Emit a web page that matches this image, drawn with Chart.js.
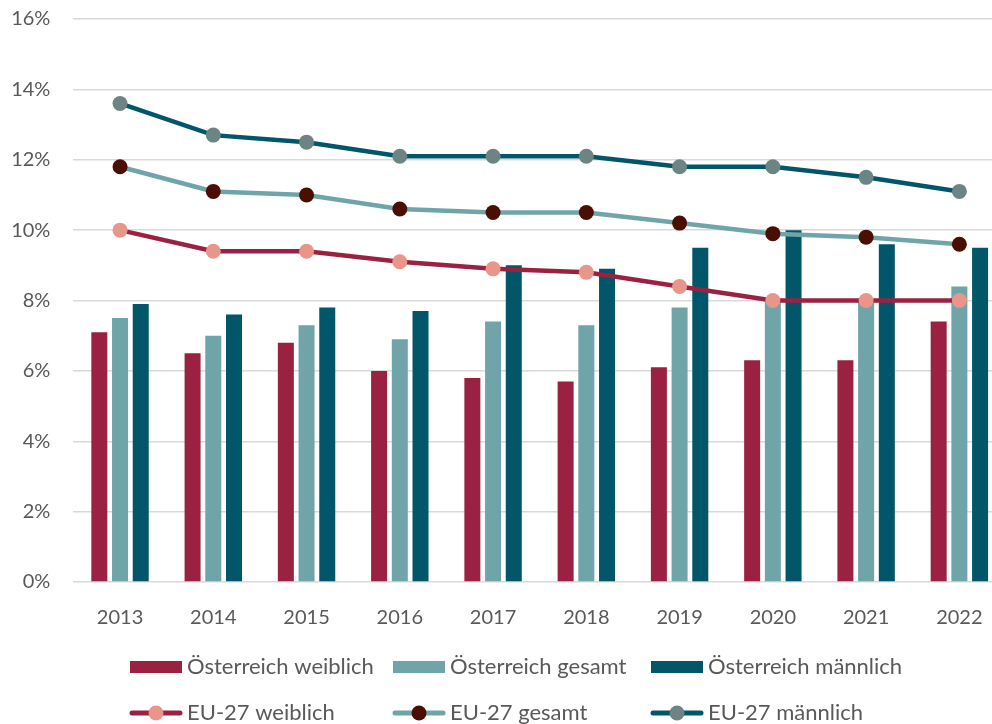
<!DOCTYPE html>
<html>
<head>
<meta charset="utf-8">
<script src="https://cdn.jsdelivr.net/npm/chart.js@4/dist/chart.umd.min.js"></script>
<style>
  html, body { margin: 0; padding: 0; background: #fff; overflow: hidden; }
  #wrap { width: 992px; height: 724px; overflow: hidden; }
</style>
</head>
<body>
<div id="wrap"><canvas id="chart" width="1014" height="724"></canvas></div>
<script>
var years = ['2013', '2014', '2015', '2016', '2017', '2018', '2019', '2020', '2021', '2022'];
var atFemale = [7.1, 6.5, 6.8, 6.0, 5.8, 5.7, 6.1, 6.3, 6.3, 7.4];
var atTotal = [7.5, 7.0, 7.3, 6.9, 7.4, 7.3, 7.8, 8.0, 8.0, 8.4];
var atMale = [7.9, 7.6, 7.8, 7.7, 9.0, 8.9, 9.5, 10.0, 9.6, 9.5];
var euFemale = [10.0, 9.4, 9.4, 9.1, 8.9, 8.8, 8.4, 8.0, 8.0, 8.0];
var euTotal = [11.8, 11.1, 11.0, 10.6, 10.5, 10.5, 10.2, 9.9, 9.8, 9.6];
var euMale = [13.6, 12.7, 12.5, 12.1, 12.1, 12.1, 11.8, 11.8, 11.5, 11.1];
var yTicks = [0, 2, 4, 6, 8, 10, 12, 14, 16];

var fontName = 'Lato, "Open Sans", sans-serif';
var textColor = '#595959';

function barSet(label, data, color) {
  return {
    type: 'bar', label: label, data: data, backgroundColor: color,
    categoryPercentage: 0.666, barPercentage: 0.773, order: 1
  };
}
function lineSet(label, data, color, marker) {
  return {
    type: 'line', label: label, data: data, borderColor: color, borderWidth: 4.5,
    pointRadius: 7.5, pointHoverRadius: 7.5, pointBackgroundColor: marker,
    pointBorderWidth: 0, tension: 0, fill: false, order: 0
  };
}

// legend drawn in two rows like the original
var legendPlugin = {
  id: 'twoRowLegend',
  afterDraw: function (c) {
    var ctx = c.ctx;
    var cols = [130, 393, 651];
    var rows = [667, 713];
    ctx.save();
    ctx.font = '22px ' + fontName;
    ctx.textBaseline = 'middle';
    ctx.textAlign = 'left';
    c.data.datasets.forEach(function (d, i) {
      var x = cols[i % 3];
      var y = rows[Math.floor(i / 3)];
      if (d.type === 'bar') {
        ctx.fillStyle = d.backgroundColor;
        ctx.fillRect(x, y - 6, 52, 12);
      } else {
        ctx.strokeStyle = d.borderColor;
        ctx.lineWidth = 5;
        ctx.lineCap = 'round';
        ctx.beginPath();
        ctx.moveTo(x + 2, y);
        ctx.lineTo(x + 50, y);
        ctx.stroke();
        ctx.fillStyle = d.pointBackgroundColor;
        ctx.beginPath();
        ctx.arc(x + 26, y, 7.5, 0, Math.PI * 2);
        ctx.fill();
      }
      ctx.fillStyle = textColor;
      ctx.fillText(d.label, x + 57, y);
    });
    ctx.restore();
  }
};

new Chart(document.getElementById('chart'), {
  type: 'bar',
  data: {
    labels: years,
    datasets: [
      barSet('Österreich weiblich', atFemale, '#9B2142'),
      barSet('Österreich gesamt', atTotal, '#6FA5A8'),
      barSet('Österreich männlich', atMale, '#025669'),
      lineSet('EU-27 weiblich', euFemale, '#9B2142', '#E8968A'),
      lineSet('EU-27 gesamt', euTotal, '#6FA5A8', '#4A0E02'),
      lineSet('EU-27 männlich', euMale, '#025669', '#6D8484')
    ]
  },
  options: {
    responsive: false,
    animation: false,
    devicePixelRatio: 1,
    layout: { padding: { left: 0, right: 8, top: 19, bottom: 0 } },
    plugins: {
      legend: { display: false },
      tooltip: { enabled: false }
    },
    scales: {
      x: {
        grid: { display: false },
        border: { display: false },
        ticks: { color: textColor, font: { family: fontName, size: 20 }, padding: 16 },
        afterFit: function (s) { s.height = 142; }
      },
      y: {
        min: 0,
        max: 16,
        afterBuildTicks: function (s) { s.ticks = yTicks.map(function (v) { return { value: v }; }); },
        grid: { color: '#D9D9D9', lineWidth: 1.5, drawTicks: false },
        border: { display: false },
        ticks: {
          color: textColor, font: { family: fontName, size: 20 }, padding: 23,
          callback: function (v) { return v + '%'; }
        },
        afterFit: function (s) {
          s.width = 73.4;
          s.paddingTop = 10;
          s.paddingBottom = 0;
        }
      }
    }
  },
  plugins: [legendPlugin]
});
</script>
</body>
</html>
